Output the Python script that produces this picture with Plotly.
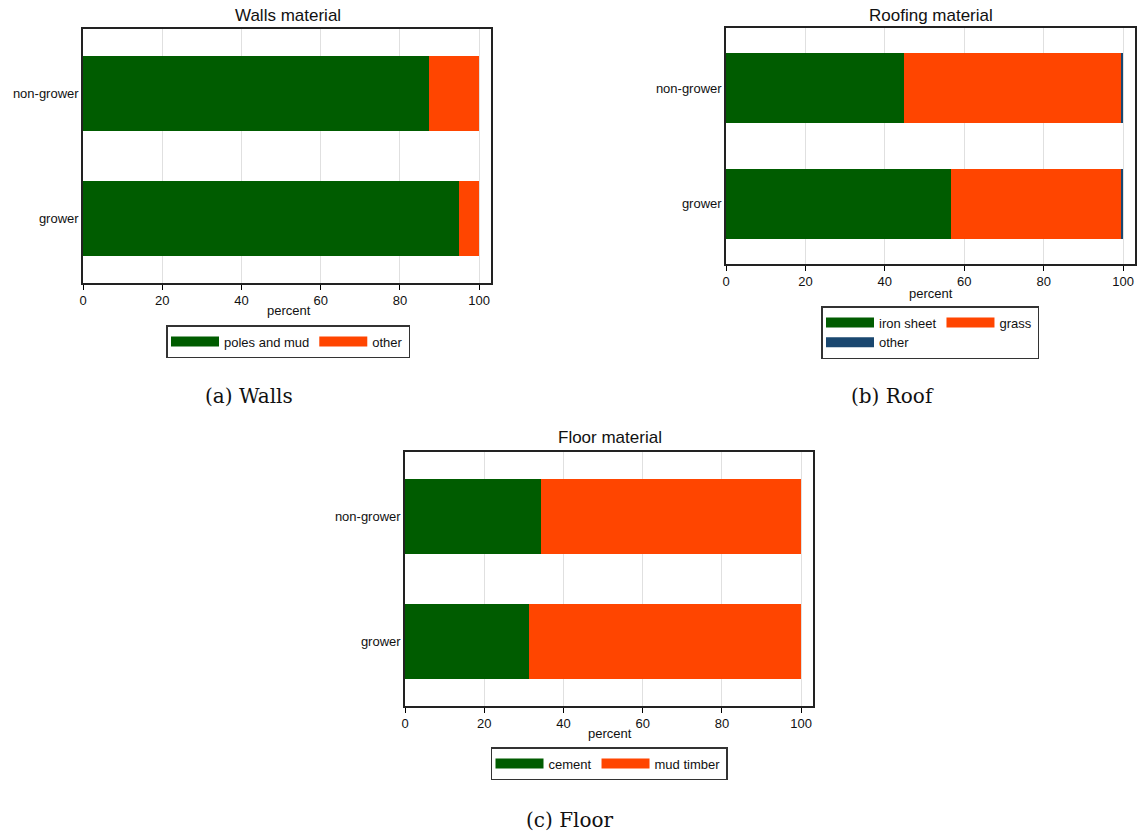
import plotly.graph_objects as go

groups = ["grower", "non-grower"]

walls_series = ["poles and mud", "other"]
walls_values = {
    "poles and mud": [94.8, 87.4],
    "other": [5.2, 12.6],
}

roof_series = ["iron sheet", "grass", "other"]
roof_values = {
    "iron sheet": [56.7, 44.8],
    "grass": [43.0, 54.9],
    "other": [0.3, 0.3],
}

floor_series = ["cement", "mud timber"]
floor_values = {
    "cement": [31.3, 34.4],
    "mud timber": [68.7, 65.6],
}

x_ticks = [0, 20, 40, 60, 80, 100]

colors = {
    "poles and mud": "#005c00", "other_w": "#ff4500",
    "iron sheet": "#005c00", "grass": "#ff4500", "other_r": "#1a476f",
    "cement": "#005c00", "mud timber": "#ff4500",
}

W, H = 1137, 834
FONT = "Liberation Sans, Arial, sans-serif"

fig = go.Figure()

panels = [
    (walls_series, walls_values, "x", "y", "legend",
     ["poles and mud", "other_w"], ["a", "b"]),
    (roof_series, roof_values, "x2", "y2", "legend2",
     ["iron sheet", "grass", "other_r"], ["a", "b", "a"]),
    (floor_series, floor_values, "x3", "y3", "legend3",
     ["cement", "mud timber"], ["a", "b"]),
]

for pi, (series, values, xa, ya, lg, ckeys, lgroups) in enumerate(panels):
    for s, ck, grp in zip(series, ckeys, lgroups):
        fig.add_trace(go.Bar(
            x=values[s], y=groups, orientation="h", name=s,
            marker=dict(color=colors[ck], line=dict(width=0)),
            width=0.6, xaxis=xa, yaxis=ya, showlegend=False,
        ))
    for s, ck, grp in zip(series, ckeys, lgroups):
        fig.add_trace(go.Scatter(
            x=[None], y=[None], mode="lines", name=s,
            line=dict(color=colors[ck], width=13),
            xaxis=xa, yaxis=ya, legend=lg,
            legendgroup=f"p{pi}{grp}", showlegend=True,
        ))


def px_x(p):
    return p / W


def px_y(p):
    return 1 - p / H


axis_common_x = dict(
    range=[0, 103], tickvals=x_ticks, ticks="outside", ticklen=5,
    tickcolor="black", showline=True, linecolor="#222222", linewidth=1.5,
    mirror=True, showgrid=True, gridcolor="#e0e0e0", gridwidth=1,
    zeroline=False, automargin=False,
    tickfont=dict(family=FONT, size=13, color="#111111"),
)
axis_common_y = dict(
    type="category", categoryorder="array", categoryarray=groups,
    range=[-0.52, 1.52], showline=True, linecolor="#222222", linewidth=1.5,
    mirror=True, showgrid=False, zeroline=False, ticks="", automargin=False,
    tickfont=dict(family=FONT, size=13, color="#111111"),
)

boxes = {
    "": (83, 491, 29, 283),
    "2": (726, 1135, 28, 264),
    "3": (405, 813, 452, 706),
}
layout_axes = {}
for k, (x0, x1, y0, y1) in boxes.items():
    layout_axes["xaxis" + k] = dict(
        axis_common_x, domain=[px_x(x0), px_x(x1)],
        anchor="y" + k)
    layout_axes["yaxis" + k] = dict(
        axis_common_y, domain=[px_y(y1), px_y(y0)],
        anchor="x" + k)

legend_common = dict(
    orientation="h", xanchor="center", yanchor="top",
    bordercolor="#333333", borderwidth=1.5, bgcolor="white",
    font=dict(family=FONT, size=13, color="#111111"),
    traceorder="grouped", tracegroupgap=0, itemwidth=48,
)

annotations = []
titles = [("Walls material", 288, 16), ("Roofing material", 931, 16),
          ("Floor material", 610, 438)]
for t, cx, cy in titles:
    annotations.append(dict(text=t, x=px_x(cx), y=px_y(cy), xref="paper",
                            yref="paper", showarrow=False, xanchor="center",
                            yanchor="middle",
                            font=dict(family=FONT, size=17, color="#111111")))
percent_pos = [(289, 310), (931, 293), (610, 733)]
for cx, cy in percent_pos:
    annotations.append(dict(text="percent", x=px_x(cx), y=px_y(cy),
                            xref="paper", yref="paper", showarrow=False,
                            xanchor="center", yanchor="middle",
                            font=dict(family=FONT, size=13, color="#111111")))
captions = [("(a) Walls", 249, 396), ("(b) Roof", 892, 396),
            ("(c) Floor", 570, 820)]
for t, cx, cy in captions:
    annotations.append(dict(text=t, x=px_x(cx), y=px_y(cy), xref="paper",
                            yref="paper", showarrow=False, xanchor="center",
                            yanchor="middle",
                            font=dict(family="DejaVu Serif, serif", size=20,
                                      color="#111111")))

fig.update_layout(
    width=W, height=H, margin=dict(l=0, r=0, t=0, b=0, autoexpand=False),
    paper_bgcolor="white", plot_bgcolor="white",
    barmode="stack", bargap=0.4,
    annotations=annotations,
    legend=dict(legend_common, x=px_x(288), y=px_y(325)),
    legend2=dict(legend_common, x=px_x(930), y=px_y(306)),
    legend3=dict(legend_common, x=px_x(609), y=px_y(747)),
    **layout_axes,
)

fig.write_html(
    "out.html",
    config={"displayModeBar": False},
    post_script="document.body.style.margin='0';"
                "document.body.style.overflow='hidden';",
)
